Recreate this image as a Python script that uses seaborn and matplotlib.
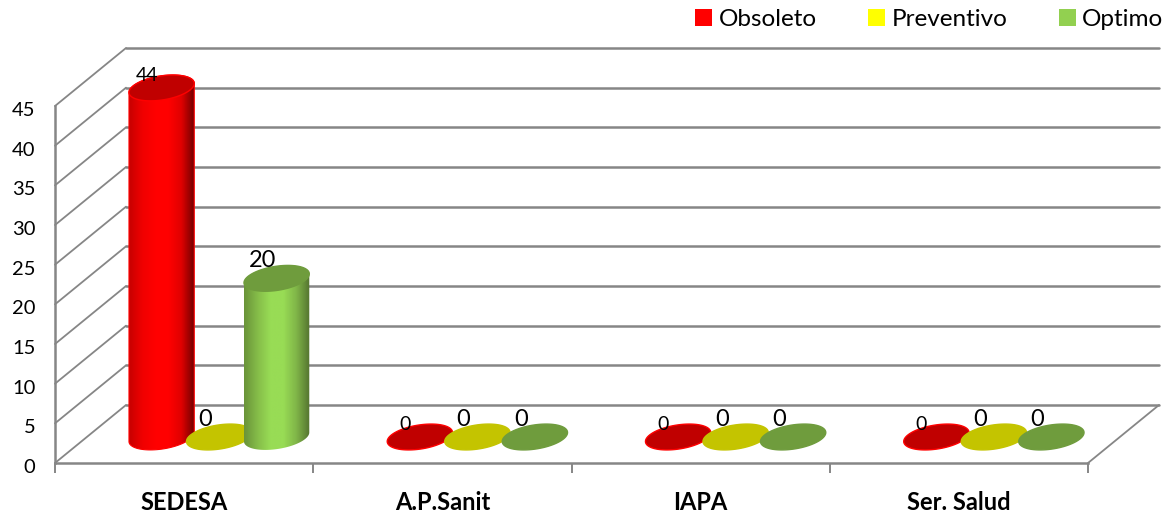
import numpy as np
import pandas as pd
import matplotlib
matplotlib.use("Agg")
import matplotlib.pyplot as plt
from matplotlib.patches import Patch, Polygon
from matplotlib.transforms import Affine2D
import seaborn as sns

# chart values
categories = ["SEDESA", "A.P.Sanit", "IAPA", "Ser. Salud"]
series_names = ["Obsoleto", "Preventivo", "Optimo"]
obsoleto = [44, 0, 0, 0]
preventivo = [0, 0, 0, 0]
optimo = [20, 0, 0, 0]
y_ticks = [0, 5, 10, 15, 20, 25, 30, 35, 40, 45]

legend_colors = ["#ff0000", "#ffff00", "#92d050"]
cap_colors = ["#c00000", "#c4c400", "#6f9c3d"]
cap_edges = ["#ff0000", "#c4c400", "#6f9c3d"]
body_ramps = [
    ["#c80000", "#f00000", "#ff0000", "#ff0000", "#e00000", "#700000"],
    ["#c8c800", "#f0f000", "#ffff00", "#ffff00", "#e0e000", "#707000"],
    ["#6a9439", "#85bc49", "#98dc55", "#98dc55", "#80b548", "#557530"],
]
label_sizes = [14, 17, 17]
label_offsets = [(-15, 12), (-14, 18), (-14, 18)]

df = pd.DataFrame({
    "cat": categories * 3,
    "serie": np.repeat(series_names, 4),
    "valor": obsoleto + preventivo + optimo,
})

sns.set_theme(style="white")
plt.rcParams["font.family"] = ["Lato", "DejaVu Sans"]

W, H = 1165, 515
fig = plt.figure(figsize=(W / 100, H / 100), dpi=100)
ax = fig.add_axes([55 / W, (H - 463) / H, 1033 / W, 357 / H])

sns.barplot(data=df, x="cat", y="valor", hue="serie", order=categories,
            hue_order=series_names, palette=legend_colors, width=0.668, gap=0,
            errorbar=None, legend=False, ax=ax)
ax.set_xlim(-0.5, 3.5)
ax.set_ylim(0, 45)
ax.set_xlabel("")
ax.set_ylabel("")

px_x = 1033 / 4        # pixels per category
px_y = 357 / 45        # pixels per unit
grey = "#868686"

# 3d box: back wall is the front plane pushed by this many pixels
back_dx, back_dy = 71 / px_x, 58 / px_y
# the cylinders stand half way into the floor
bar_dx, bar_dy = 35 / px_x, 26 / px_y

for v in y_ticks:
    ax.plot([-0.5, -0.5 + back_dx], [v, v + back_dy], color=grey, lw=1.3,
            clip_on=False, zorder=1)
    ax.plot([-0.5 + back_dx, 3.5 + back_dx], [v + back_dy, v + back_dy], color=grey,
            lw=1.8, clip_on=False, zorder=1)
ax.plot([3.5, 3.5 + back_dx], [0, back_dy], color=grey, lw=1.3, clip_on=False, zorder=1)

for s in ["top", "right"]:
    ax.spines[s].set_visible(False)
for s in ["left", "bottom"]:
    ax.spines[s].set_color(grey)
    ax.spines[s].set_linewidth(1.8)
    ax.spines[s].set_zorder(1)

ax.set_yticks(y_ticks)
ax.tick_params(axis="y", length=0, pad=14, labelsize=14.5, labelcolor="black")
for lab in ax.get_yticklabels():
    lab.set_horizontalalignment("right")
    lab.set_transform(lab.get_transform() + Affine2D().translate(0, -3))
ax.set_xticks(range(len(categories)))
ax.set_xticklabels(categories, fontweight="bold", fontsize=17, color="black")
ax.tick_params(axis="x", which="major", length=0, pad=20)
ax.set_xticks(np.arange(-0.5, 4), minor=True)
ax.tick_params(axis="x", which="minor", length=7, width=1.4, color=grey, bottom=True)

# ellipse outline in data units, tilted like the excel perspective
a, b, tilt = 33, 12, np.radians(9)
t = np.linspace(0, 2 * np.pi, 200, endpoint=False)
ell_x = (a * np.cos(t) * np.cos(tilt) - b * np.sin(t) * np.sin(tilt)) / px_x
ell_y = (a * np.cos(t) * np.sin(tilt) + b * np.sin(t) * np.cos(tilt)) / px_y
i_left, i_right = ell_x.argmin(), ell_x.argmax()
chord = ell_y[i_left] + (ell_x - ell_x[i_left]) * (ell_y[i_right] - ell_y[i_left]) / (ell_x[i_right] - ell_x[i_left])
low = np.where(ell_y <= chord)[0]
up = np.where(ell_y >= chord)[0]
low = low[np.argsort(ell_x[low])]
up = up[np.argsort(-ell_x[up])]

bars = list(ax.patches)
for n, patch in enumerate(bars):
    s = n // len(categories)
    patch.set_visible(False)
    cx = patch.get_x() + patch.get_width() / 2 + bar_dx
    y0 = bar_dy
    y1 = bar_dy + patch.get_height()
    z = 3 + s
    if patch.get_height() > 0:
        outline = np.r_[np.c_[cx + ell_x[low], y0 + ell_y[low]],
                        np.c_[cx + ell_x[up], y1 + ell_y[up]]]
        shape = Polygon(outline, closed=True, transform=ax.transData, facecolor="none",
                        edgecolor=cap_edges[s] if s == 0 else "none", lw=0.8,
                        clip_on=False, zorder=z + 0.1)
        ax.add_patch(shape)
        ramp = np.array(sns.blend_palette(body_ramps[s], n_colors=80))[None, :, :]
        im = ax.imshow(ramp, extent=[cx + ell_x.min(), cx + ell_x.max(),
                                     y0 + ell_y.min(), y1 + ell_y.max()],
                       aspect="auto", zorder=z, interpolation="bilinear")
        # the top of the tall bar goes past the axes box
        im.set_clip_box(fig.bbox)
        im.set_clip_path(shape)
    ax.fill(cx + ell_x, y1 + ell_y, facecolor=cap_colors[s], edgecolor=cap_edges[s],
            lw=1.0, clip_on=False, zorder=z + 0.2)
    ax.annotate(f"{patch.get_height():.0f}", (cx, y1), xytext=label_offsets[s],
                textcoords="offset pixels", ha="center", va="center",
                fontsize=label_sizes[s], color="black", zorder=10, annotation_clip=False)

ax.set_xlim(-0.5, 3.5)
ax.set_ylim(0, 45)

handles = [Patch(facecolor=c, edgecolor="none") for c in legend_colors]
fig.legend(handles, series_names, loc="upper right", bbox_to_anchor=(1163 / W, 1 - 9 / H),
           ncol=3, frameon=False, fontsize=17.5, labelcolor="black", handlelength=0.7,
           handleheight=0.7, handletextpad=0.25, columnspacing=2.12, borderpad=0, borderaxespad=0)

fig.savefig("out.png", dpi=100)
